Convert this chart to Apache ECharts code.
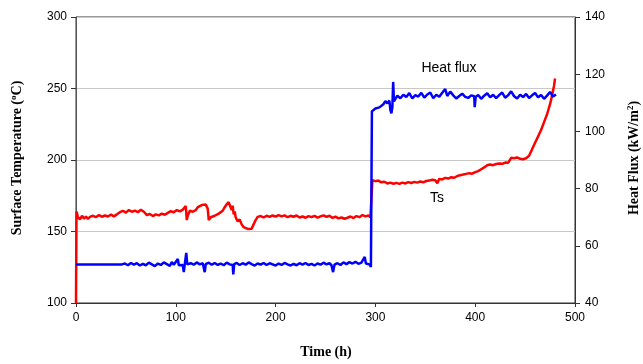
<!DOCTYPE html>
<html>
<head>
<meta charset="utf-8">
<script src="https://cdn.jsdelivr.net/npm/echarts@6/dist/echarts.min.js"></script>
<style>html,body{margin:0;padding:0;background:#fff;}#chart{width:643px;height:364px;}</style>
</head>
<body>
<div id="chart"></div>
<script>
// ---- data ----
var xTicks = [0, 100, 200, 300, 400, 500];
var leftTicks = [100, 150, 200, 250, 300];
var rightTicks = [40, 60, 80, 100, 120, 140];

var tsTime = [0,0.5,2,4,6,8,10,12,14,17,20,23,26,29,32,35,38,41,44,47,50,53,56,59,62,65,68,71,74,77,80,83,86,89,92,95,98,101,104,107,109,110,111,112,114,117,120,122,124,126,128,130,132,133,135,137,139,141,143,145,147,149,151,153,155,156,157,158,159,160,162,164,166,168,170,172,174,176,178,180,182,185,188,191,194,197,200,203,206,209,212,215,218,221,224,227,230,233,236,239,242,245,248,251,254,257,260,263,266,269,272,275,278,281,284,287,290,293,295,296.5,
297,300,303,306,309,312,315,318,321,324,327,330,333,336,339,342,345,348,351,354,357,360,362,364,367,370,373,376,379,382,385,388,391,394,397,400,403,406,409,412,415,418,421,424,427,430,433,435,436,439,442,445,448,451,454,457,460,463,466,469,472,475,477,479,480];
var tsValue = [100,164,160,158.5,161,159,160.5,158.8,160.2,161,160,161.5,160.3,161.2,160.5,161.8,160.6,162,163.5,164.5,163.2,165,163.8,164.6,163.5,165.2,163.8,161.5,162.2,160.8,162,161.3,162.5,161.7,163,164.2,163.5,165,164,165.3,166,167.8,158,161,164.5,163.8,165,167,166,168.5,167.2,168.8,166,158,160,159.2,161,160.5,162.5,163,164.5,167,169,170.5,169.5,165,168,162,164,160,157,158.5,155,153,152.2,151.8,152.5,152,153,158,160.2,160.8,159.8,161,160.2,161.2,160.4,161.5,160.6,161.3,160,161,160.3,161.2,159.8,160.5,159.6,160.8,160,160.9,159.7,160.6,161.3,160.2,161,159.5,160.4,159.2,159.8,158.9,159.6,160.5,159.4,160.8,160,161.5,160.6,161.2,159.8,160.5,
185.8,185.2,185.6,184.4,184.8,183.6,184.2,183.4,184,183.3,184.2,183.6,184.5,183.9,184.7,184.2,185,184.4,185.3,185.6,186.2,185.8,183.8,186.8,186.4,187.5,187,188,187.6,188.8,189.4,189.8,190.3,190.8,190.4,191.5,192.2,193.5,194.8,196.3,196.8,196.4,197.2,197.6,197.3,198.2,198,198.6,201.5,201.2,201.8,200.8,200.5,201.2,203,207.5,212,216.5,221,226.5,232,239,245,252,257];

var hfTime = [0,46,47,49,52,55,58,61,64,67,70,73,76,79,82,85,88,91,94,96,98,100,102,103,105,107,108,109,110.5,111.5,113,115,118,121,124,127,129,130,133,136,139,142,145,148,151,154,157,157.6,158.5,161,164,167,170,173,176,179,182,185,188,191,194,197,200,203,206,209,212,215,218,221,224,227,230,233,236,239,242,245,248,251,254,256,257.6,259,262,265,268,271,274,277,280,283,286,288,289.3,290.5,292,294,295.5,296,
296.5,298,300,302,304,306,308,310,312,314,315,316,317,317.8,318.6,320,322,325,328,331,334,337,340,343,346,349,352,355,358,361,364,367,370,372,375,378,381,384,387,390,393,396,399,399.5,400.5,403,406,409,412,415,418,421,424,427,430,433,436,439,442,445,448,451,454,457,460,463,466,469,472,475,478,481];
var hfValue = [53.5,53.5,53,53.8,53.2,54,53.4,53.9,53.1,53.7,53.2,54.1,53.5,52.9,53.8,53.3,54.2,53.6,53,54.3,53.4,54,55.4,53.2,53.8,53.3,50.8,53.6,57.5,53.5,53.2,53.9,53.4,54.2,53.5,53.9,50.8,53.6,54.1,53.4,54,53.3,53.8,53.2,54.1,53.5,53.3,50,53.6,54,53.3,53.9,53.4,54.2,53.6,53.1,53.8,53.4,54,53.3,53.9,53.5,53.1,53.8,53.3,54,53.5,53.1,53.7,53.2,53.9,53.4,54,53.3,53.7,53.1,53.8,53.4,54.1,53.5,53.9,53.2,50.8,53.4,53.9,53.3,54.2,53.6,54.3,53.8,54.4,53.7,54.1,53.5,56.1,53.8,54.2,53.5,52.6,53,
107,107.5,108,107.6,108.4,108.2,109.5,110.6,109.8,110.8,107.5,106.3,108.5,117.3,110.5,111,112.5,111.6,112.8,112,113.4,111.5,112.7,112.2,113.5,111.8,112.9,113.6,111.6,112.8,112.1,113.5,114.8,112.4,113.9,112.6,111.5,112.4,113.2,112.1,111.7,112.6,112.3,108.5,112.1,112.7,111.4,112.5,113.3,111.9,112.8,111.6,112.7,113.6,111.8,112.6,114,112.3,111.5,112.8,112,113.1,111.7,112.6,113.4,111.9,112.7,111.4,112.5,113.8,112.2,112.9];

function pairs(xs, ys) { return xs.map(function (x, i) { return [x, ys[i]]; }); }

var chart = echarts.init(document.getElementById('chart'), null, {renderer: 'canvas'});
var tickFont = {color: '#000', fontFamily: 'Liberation Sans', fontSize: 12};
var titleFont = 'bold 14px "Liberation Serif"';

chart.setOption({
  animation: false,
  backgroundColor: '#fff',
  grid: {left: 76, right: 68, top: 17, bottom: 61, show: true, borderColor: '#333', borderWidth: 1},
  xAxis: {
    type: 'value', min: xTicks[0], max: xTicks[xTicks.length - 1], interval: 100,
    axisLine: {lineStyle: {color: '#333'}},
    axisTick: {show: true, length: 4, lineStyle: {color: '#333'}},
    axisLabel: Object.assign({margin: 9}, tickFont),
    splitLine: {show: false}
  },
  yAxis: [{
    type: 'value', min: leftTicks[0], max: leftTicks[leftTicks.length - 1], interval: 50,
    axisLine: {show: true, lineStyle: {color: '#555'}},
    axisTick: {show: true, length: 5, lineStyle: {color: '#333'}},
    axisLabel: Object.assign({margin: 9}, tickFont),
    splitLine: {show: true, lineStyle: {color: '#c8c8c8', width: 1}}
  }, {
    type: 'value', min: rightTicks[0], max: rightTicks[rightTicks.length - 1], interval: 20,
    position: 'right',
    axisLine: {show: true, lineStyle: {color: '#333'}},
    axisTick: {show: true, length: 5, lineStyle: {color: '#333'}},
    axisLabel: Object.assign({margin: 10}, tickFont),
    splitLine: {show: false}
  }],
  series: [{
    name: 'Ts', type: 'line', yAxisIndex: 0, showSymbol: false, symbol: 'none',
    lineStyle: {color: '#ff0000', width: 2.5}, data: pairs(tsTime, tsValue), z: 2
  }, {
    name: 'Heat flux', type: 'line', yAxisIndex: 1, showSymbol: false, symbol: 'none',
    lineStyle: {color: '#0000ff', width: 2.5}, data: pairs(hfTime, hfValue), z: 3
  }],
  graphic: [
    {type: 'text', x: 17, y: 158, rotation: Math.PI / 2,
      style: {text: 'Surface Temperature ({s|o}C)', font: titleFont, fill: '#000', textAlign: 'center', textVerticalAlign: 'middle',
        rich: {s: {font: 'bold 9px "Liberation Serif"', verticalAlign: 'top', padding: [0, 0, 6, 0]}}}},
    {type: 'text', x: 634, y: 158, rotation: Math.PI / 2,
      style: {text: 'Heat Flux (kW/m{s|2})', font: titleFont, fill: '#000', textAlign: 'center', textVerticalAlign: 'middle',
        rich: {s: {font: 'bold 9px "Liberation Serif"', verticalAlign: 'top', padding: [0, 0, 6, 0]}}}},
    {type: 'text', x: 326, y: 352,
      style: {text: 'Time (h)', font: titleFont, fill: '#000', textAlign: 'center', textVerticalAlign: 'middle'}},
    {type: 'text', x: 449, y: 68,
      style: {text: 'Heat flux', font: '14px "Liberation Sans"', fill: '#000', textAlign: 'center', textVerticalAlign: 'middle'}},
    {type: 'text', x: 437, y: 198,
      style: {text: 'Ts', font: '14px "Liberation Sans"', fill: '#000', textAlign: 'center', textVerticalAlign: 'middle'}}
  ]
});
</script>
</body>
</html>
